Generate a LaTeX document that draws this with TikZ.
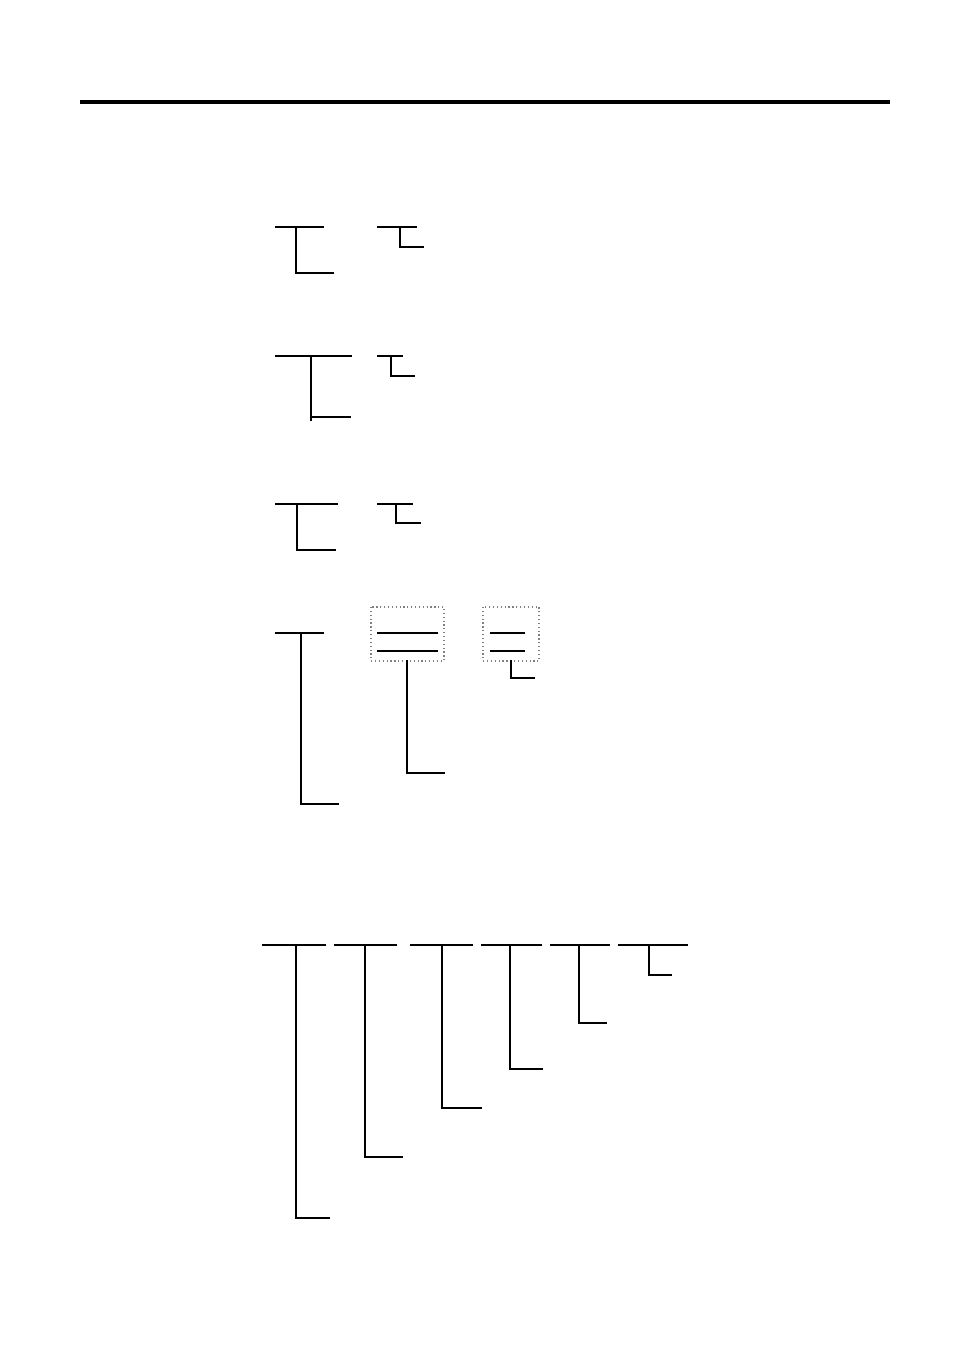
\documentclass[tikz,border=0pt]{standalone}
\usepackage{tikz}

\begin{document}
\begin{tikzpicture}[
    x=0.75pt, y=-0.75pt,
    lightbar/.style={
        line width=1.1pt, line cap=rect
    },
    heavybar/.style={
        line width=2.2pt, line cap=rect
    },
    rule/.style={
        line width=3pt
    },
    group box/.style={
        draw=gray, dotted, line width=0.9pt
    }
]

    \useasboundingbox (0,0) rectangle (954,1348);
    \draw[rule] (80,102) -- (890,102);

    % first block
    \draw[lightbar] (276,227) -- (323,227);
    \draw[lightbar] (296,227) |- (333,273);
    \draw[lightbar] (378,227) -- (416,227);
    \draw[lightbar] (400,227) |- (423,247);

    % second block
    \draw[lightbar] (276,356) -- (351,356);
    \draw[lightbar] (311,356) -- (311,420);
    \draw[lightbar] (313,417) -- (350,417);
    \draw[lightbar] (378,356) -- (402,356);
    \draw[lightbar] (391,356) |- (414,376);

    % third block
    \draw[heavybar] (276,504) -- (337,504);
    \draw[lightbar] (297,504) |- (335,550);
    \draw[heavybar] (378,504) -- (412,504);
    \draw[lightbar] (396,504) |- (420,523);

    % fourth block
    \draw[heavybar] (276,633) -- (323,633);
    \draw[heavybar] (301,633) -- (301,803);
    \draw[lightbar] (301,804) -- (338,804);
    \draw[group box] (371,607) rectangle (444,661);
    \draw[heavybar] (378,633) -- (437,633);
    \draw[heavybar] (378,651) -- (437,651);
    \draw[lightbar] (407,661) |- (444,773);
    \draw[group box] (483,607) rectangle (539,661);
    \draw[heavybar] (491,633) -- (524,633);
    \draw[heavybar] (491,651) -- (524,651);
    \draw[lightbar] (511,661) |- (534,678);

    % fifth block
    \foreach \xa/\xb/\xv/\xe/\yb/\w in {
        263/325/296/329/1218/lightbar,
        335/396/365/402/1157/heavybar,
        411/472/442/481/1108/lightbar,
        482/541/510/542/1069/heavybar,
        551/609/579/606/1023/lightbar,
        619/687/649/671/975/lightbar}{
        \draw[lightbar] (\xa,945) -- (\xb,945);
        \draw[\w] (\xv,945) |- (\xe,\yb);
    }

\end{tikzpicture}
\end{document}
